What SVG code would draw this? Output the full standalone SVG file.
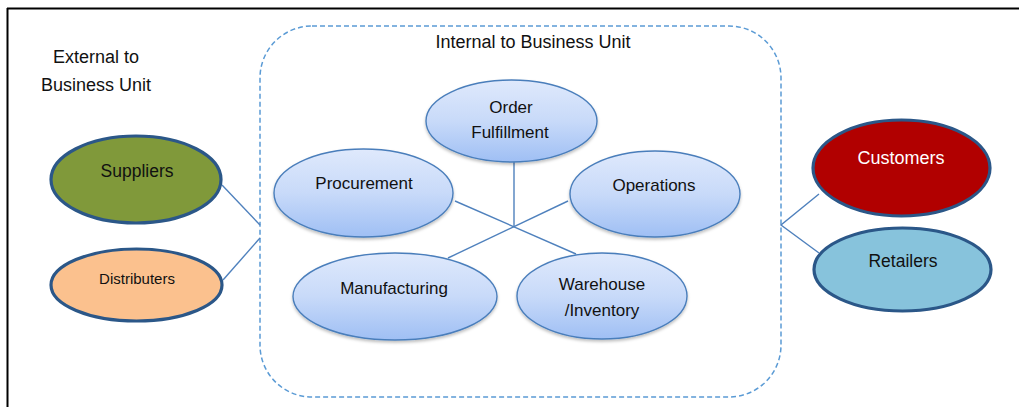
<svg xmlns="http://www.w3.org/2000/svg" width="1019" height="407" viewBox="0 0 1019 407">
  <style>
    text { font-family: "Liberation Sans", Arial, sans-serif; fill: #111; text-anchor: middle; }
    .heading { font-size: 18px; }
    .inner { fill: url(#innerFill); stroke: #4a7ebb; stroke-width: 1.4; filter: url(#softShadow); }
    .outer { stroke: #2b5788; stroke-width: 3.2; }
    .link { stroke: #4f81bd; stroke-width: 1.4; fill: none; }
    .lbl { font-size: 17px; }
  </style>
  <defs>
    <linearGradient id="innerFill" x1="0" y1="0" x2="0" y2="1">
      <stop offset="0" stop-color="#dfe9fc"/>
      <stop offset="0.5" stop-color="#c8daf9"/>
      <stop offset="1" stop-color="#9fbff4"/>
    </linearGradient>
    <filter id="softShadow" x="-10%" y="-10%" width="120%" height="130%">
      <feDropShadow dx="0" dy="2" stdDeviation="1.5" flood-color="#000" flood-opacity="0.25"/>
    </filter>
  </defs>

  <rect width="1019" height="407" fill="#ffffff"/>

  <!-- page frame -->
  <line x1="7" y1="8.5" x2="1019" y2="8.5" stroke="#000" stroke-width="2"/>
  <line x1="7.5" y1="8" x2="7.5" y2="407" stroke="#000" stroke-width="2"/>

  <!-- business unit boundary -->
  <rect id="boundary" x="260" y="26" width="521" height="371" rx="52" ry="52" fill="none" stroke="#5b9bd5" stroke-width="1.5" stroke-dasharray="5 3"/>

  <text class="heading" x="96" y="63">External to</text>
  <text class="heading" x="96" y="91">Business Unit</text>
  <text class="heading" x="533" y="48">Internal to Business Unit</text>

  <!-- connectors -->
  <g id="connectors">
    <line class="link" x1="222" y1="185" x2="260" y2="225"/>
    <line class="link" x1="223" y1="280" x2="260" y2="238"/>
    <polyline class="link" points="819,194 781,225 819,253"/>
    <line class="link" x1="514" y1="162" x2="514" y2="226"/>
    <line class="link" x1="455" y1="201" x2="576" y2="254"/>
    <line class="link" x1="568" y1="201" x2="448" y2="258"/>
  </g>

  <!-- external parties -->
  <g id="suppliers">
    <ellipse class="outer" cx="136" cy="179.5" rx="85" ry="43.5" fill="#80993a"/>
    <text x="137" y="177" style="font-size:17.5px">Suppliers</text>
  </g>
  <g id="distributers">
    <ellipse class="outer" cx="136.5" cy="285" rx="85.5" ry="36" fill="#fbc18e"/>
    <text x="137" y="284" style="font-size:15px">Distributers</text>
  </g>
  <g id="customers">
    <ellipse class="outer" cx="901.5" cy="168" rx="88.5" ry="48" fill="#b10000"/>
    <text x="901" y="164" style="font-size:18px; fill:#ffffff">Customers</text>
  </g>
  <g id="retailers">
    <ellipse class="outer" cx="902.5" cy="269.5" rx="88.5" ry="41.5" fill="#87c3dc"/>
    <text x="903" y="267" style="font-size:17.5px">Retailers</text>
  </g>

  <!-- internal functions -->
  <g id="order-fulfillment">
    <ellipse class="inner" cx="511.5" cy="121" rx="85.5" ry="41"/>
    <text class="lbl" x="511" y="113">Order</text>
    <text class="lbl" x="510" y="138">Fulfillment</text>
  </g>
  <g id="procurement">
    <ellipse class="inner" cx="363.5" cy="193" rx="89.5" ry="44"/>
    <text class="lbl" x="364" y="189">Procurement</text>
  </g>
  <g id="operations">
    <ellipse class="inner" cx="655" cy="194" rx="85" ry="43"/>
    <text class="lbl" x="654" y="191">Operations</text>
  </g>
  <g id="manufacturing">
    <ellipse class="inner" cx="395" cy="296.5" rx="102" ry="43.5"/>
    <text class="lbl" x="394" y="294">Manufacturing</text>
  </g>
  <g id="warehouse">
    <ellipse class="inner" cx="602" cy="296" rx="85" ry="43"/>
    <text class="lbl" x="602" y="290">Warehouse</text>
    <text class="lbl" x="602" y="316">/Inventory</text>
  </g>
</svg>
